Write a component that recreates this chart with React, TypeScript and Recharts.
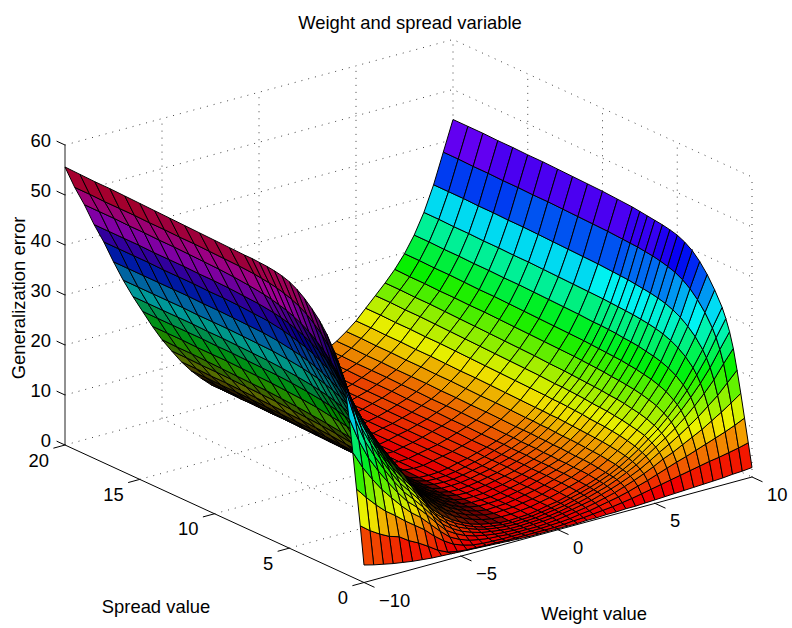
import React from "react";
import { ScatterChart, Scatter, XAxis, YAxis } from "recharts";

const WIDTH = 792;
const HEIGHT = 628;

const weightValues = [-10,-9.5,-9,-8.5,-8,-7.5,-7,-6.5,-6,-5.5,-5,-4.5,-4,-3.5,-3,-2.5,-2,-1.5,-1,-0.5,0,0.5,1,1.5,2,2.5,3,3.5,4,4.5,5,5.5,6,6.5,7,7.5,8,8.5,9,9.5,10];
const spreadValues = [0,0.25,0.5,0.75,1,1.25,1.5,1.75,2,2.5,3,3.5,4,4.5,5,5.5,6,6.5,7,7.5,8,9,10,11,12,13,14,15,16,17,18,19,20];

const e00 = [3.5,11,18,25,31.5,37,40,42,43.6,46.3,48.4,50,51.4,52.5,53.3,53.8,54.1,54.3,54.4,54.5,54.5,54.6,54.7,54.8,54.9,55,55.1,55.2,55.3,55.4,55.4,55.5,55.6];
const e01 = [3,9.5,15.8,21.5,26.5,30.5,33.5,35.8,37.6,40.4,42.6,44.4,45.8,47,47.9,48.6,49.1,49.5,49.8,50,50.2,50.4,50.5,50.6,50.7,50.7,50.8,50.8,50.9,50.9,50.9,51,51];
const e02 = [2.6,8.3,13.8,18.6,22.5,25.6,28,30,31.6,34.3,36.5,38.3,39.9,41.2,42.3,43.2,43.9,44.5,44.9,45.3,45.6,46,46.3,46.5,46.6,46.7,46.8,46.8,46.9,46.9,47,47,47];
const e03 = [2.2,7.3,12,16,19.4,22,24.1,25.9,27.4,30,32.2,34,35.6,36.9,38,38.9,39.6,40.2,40.7,41.1,41.4,41.8,42,42.2,42.3,42.3,42.4,42.4,42.4,42.5,42.5,42.5,42.5];
const e04 = [1.9,6.7,10.6,13.8,16.6,18.8,20.6,22.2,23.6,26,28,29.8,31.3,32.6,33.7,34.6,35.4,36,36.5,36.9,37.3,37.8,38,38.2,38.3,38.3,38.4,38.4,38.4,38.5,38.5,38.5,38.5];
const e05 = [1.6,5.4,9,11.7,14,15.9,17.5,18.9,20.1,22.3,24.1,25.8,27.2,28.4,29.4,30.3,31,31.6,32.1,32.5,32.8,33.3,33.6,33.7,33.8,33.9,33.9,34,34,34,34,34,34];
const e06 = [1.4,4.4,7.6,9.8,11.7,13.3,14.7,16,17.1,19.1,20.8,22.3,23.6,24.7,25.6,26.4,27.1,27.6,28.1,28.4,28.7,29.1,29.4,29.5,29.6,29.7,29.7,29.7,29.8,29.8,29.8,29.8,29.8];
const e07 = [1.2,3.2,6.2,8.3,10,11.3,12.5,13.6,14.6,16.3,17.8,19.1,20.2,21.1,21.9,22.6,23.2,23.7,24.1,24.4,24.7,25.1,25.4,25.6,25.7,25.8,25.9,25.9,26,26,26,26,26];
const e08 = [1.1,1.9,4.4,6.4,8,9.2,10.3,11.3,12.2,13.8,15.1,16.2,17.2,18,18.7,19.3,19.8,20.2,20.6,20.9,21.2,21.6,21.9,22.1,22.2,22.3,22.4,22.4,22.5,22.5,22.5,22.5,22.5];
const e09 = [1,1,2.9,4.5,5.8,6.9,7.9,8.7,9.5,10.9,12,13,13.9,14.6,15.2,15.7,16.2,16.6,16.9,17.2,17.4,17.9,18.2,18.4,18.6,18.7,18.8,18.9,18.9,18.9,19,19,19];
const e10 = [0.9,0.6,1.7,2.8,3.8,4.7,5.5,6.2,6.8,8,9,9.9,10.6,11.2,11.8,12.3,12.7,13,13.3,13.6,13.8,14.2,14.5,14.8,15,15.2,15.3,15.4,15.5,15.6,15.7,15.7,15.8];
const e11 = [0.8,0.4,1,1.8,2.6,3.3,3.9,4.5,5,6,6.8,7.6,8.2,8.8,9.3,9.7,10.1,10.4,10.7,11,11.2,11.6,11.9,12.1,12.3,12.5,12.6,12.7,12.8,12.9,12.9,13,13];
const e12 = [0.7,0.3,0.5,1.1,1.7,2.2,2.7,3.2,3.6,4.4,5.1,5.7,6.2,6.7,7.1,7.5,7.8,8.1,8.3,8.5,8.7,9,9.3,9.5,9.7,9.8,9.9,10,10.1,10.2,10.2,10.3,10.3];
const e13 = [0.6,0.2,0.3,0.7,1.1,1.5,1.9,2.2,2.5,3.1,3.6,4.1,4.5,4.9,5.2,5.5,5.8,6,6.2,6.4,6.5,6.8,7,7.2,7.4,7.5,7.6,7.7,7.8,7.9,7.9,8,8];
const e14 = [0.5,0.2,0.2,0.4,0.7,0.9,1.2,1.4,1.6,2.1,2.5,2.9,3.2,3.5,3.7,3.9,4.1,4.3,4.5,4.6,4.7,5,5.2,5.3,5.4,5.5,5.6,5.7,5.8,5.9,5.9,6,6];
const e15 = [0.4,0.1,0.1,0.3,0.4,0.6,0.7,0.8,1,1.3,1.6,1.9,2.1,2.3,2.5,2.6,2.8,2.9,3,3.1,3.2,3.4,3.5,3.6,3.7,3.8,3.9,4,4,4.1,4.1,4.2,4.2];
const e16 = [0.3,0.1,0.1,0.1,0.2,0.3,0.4,0.5,0.6,0.7,0.9,1.1,1.2,1.4,1.5,1.6,1.7,1.8,1.9,2,2,2.2,2.3,2.4,2.5,2.5,2.6,2.6,2.7,2.7,2.8,2.8,2.8];
const e17 = [0.2,0.1,0.1,0.1,0.1,0.1,0.2,0.2,0.2,0.3,0.4,0.5,0.6,0.6,0.7,0.8,0.8,0.9,0.9,1,1,1.1,1.2,1.2,1.3,1.3,1.4,1.4,1.5,1.5,1.5,1.6,1.6];
const e18 = [0.2,0.1,0.1,0.1,0.1,0.1,0.1,0.1,0.1,0.2,0.2,0.2,0.3,0.3,0.3,0.4,0.4,0.4,0.5,0.5,0.5,0.6,0.6,0.7,0.7,0.7,0.8,0.8,0.8,0.8,0.9,0.9,0.9];
const e19 = [0.2,0.1,0.1,0.1,0.2,0.2,0.2,0.2,0.2,0.2,0.3,0.3,0.3,0.3,0.3,0.3,0.3,0.4,0.4,0.4,0.4,0.4,0.4,0.5,0.5,0.5,0.5,0.5,0.5,0.6,0.6,0.6,0.6];
const e20 = [0.2,0.1,0.2,0.2,0.3,0.3,0.3,0.3,0.3,0.4,0.4,0.4,0.4,0.4,0.4,0.5,0.5,0.5,0.5,0.5,0.5,0.5,0.5,0.5,0.5,0.5,0.6,0.6,0.6,0.6,0.6,0.6,0.6];
const e21 = [0.2,0.2,0.3,0.4,0.5,0.5,0.6,0.6,0.6,0.6,0.7,0.7,0.7,0.7,0.8,0.8,0.8,0.8,0.8,0.8,0.8,0.9,0.9,0.9,0.9,0.9,0.9,1,1,1,1,1,1];
const e22 = [0.2,0.4,0.5,0.7,0.8,0.8,0.9,0.9,1,1,1,1.1,1.1,1.1,1.1,1.2,1.2,1.2,1.2,1.2,1.3,1.3,1.3,1.3,1.4,1.4,1.4,1.4,1.4,1.5,1.5,1.5,1.5];
const e23 = [0.3,0.5,0.8,1,1.1,1.2,1.2,1.3,1.3,1.4,1.4,1.5,1.5,1.5,1.6,1.6,1.6,1.6,1.6,1.7,1.7,1.7,1.7,1.8,1.8,1.8,1.8,1.9,1.9,1.9,1.9,2,2];
const e24 = [0.3,0.7,1,1.3,1.5,1.6,1.7,1.8,1.8,1.9,2,2,2.1,2.1,2.1,2.1,2.2,2.2,2.2,2.2,2.3,2.3,2.3,2.4,2.4,2.4,2.4,2.5,2.5,2.5,2.5,2.6,2.6];
const e25 = [0.4,0.9,1.4,1.7,1.9,2.1,2.2,2.3,2.4,2.5,2.6,2.6,2.7,2.7,2.7,2.8,2.8,2.8,2.8,2.9,2.9,2.9,3,3,3,3,3.1,3.1,3.1,3.1,3.2,3.2,3.2];
const e26 = [0.4,1.1,1.8,2.2,2.5,2.7,2.8,2.9,3,3.1,3.2,3.3,3.3,3.4,3.4,3.4,3.5,3.5,3.5,3.6,3.6,3.6,3.7,3.7,3.8,3.8,3.8,3.9,3.9,3.9,4,4,4];
const e27 = [0.5,1.4,2.2,2.7,3.1,3.3,3.5,3.6,3.7,3.9,4,4,4.1,4.1,4.2,4.2,4.3,4.3,4.3,4.4,4.4,4.5,4.5,4.6,4.6,4.6,4.7,4.7,4.8,4.8,4.8,4.9,4.9];
const e28 = [0.5,1.7,2.7,3.4,3.8,4.1,4.3,4.4,4.5,4.7,4.9,5,5,5.1,5.2,5.2,5.3,5.3,5.4,5.4,5.4,5.5,5.6,5.6,5.7,5.7,5.8,5.8,5.8,5.9,5.9,6,6];
const e29 = [0.6,2.1,3.3,4.1,4.6,5,5.2,5.4,5.6,5.8,6,6.1,6.2,6.3,6.4,6.4,6.5,6.6,6.6,6.7,6.7,6.8,6.9,6.9,7,7.1,7.1,7.2,7.2,7.3,7.3,7.4,7.4];
const e30 = [0.7,2.5,3.9,4.9,5.5,6,6.3,6.6,6.8,7.1,7.3,7.5,7.6,7.7,7.8,7.9,8,8.1,8.1,8.2,8.2,8.3,8.4,8.5,8.6,8.6,8.7,8.8,8.8,8.9,8.9,9,9];
const e31 = [0.8,2.9,4.6,5.8,6.6,7.2,7.6,7.9,8.2,8.6,8.9,9.1,9.3,9.4,9.5,9.7,9.8,9.9,10,10,10.1,10.2,10.3,10.4,10.5,10.6,10.7,10.8,10.8,10.9,10.9,11,11];
const e32 = [0.9,3.3,5.3,6.8,7.8,8.5,9,9.4,9.8,10.2,10.5,10.8,11,11.2,11.3,11.4,11.6,11.7,11.8,11.9,11.9,12.1,12.2,12.3,12.4,12.5,12.6,12.7,12.8,12.9,12.9,13,13];
const e33 = [1,3.7,6,7.6,8.9,9.8,10.4,10.9,11.3,11.9,12.3,12.6,12.9,13.1,13.2,13.4,13.5,13.6,13.7,13.8,13.9,14,14.2,14.3,14.4,14.5,14.6,14.7,14.8,14.9,14.9,15,15];
const e34 = [1.1,4.1,6.6,8.6,10.1,11.2,12.1,12.7,13.2,14,14.5,14.9,15.2,15.4,15.6,15.7,15.9,16,16.1,16.2,16.3,16.4,16.5,16.6,16.7,16.8,16.9,16.9,17,17,17.1,17.1,17.2];
const e35 = [1.2,4.5,7.3,9.6,11.4,12.8,13.9,14.7,15.3,16.3,16.9,17.4,17.7,18,18.2,18.4,18.5,18.6,18.7,18.8,18.9,19,19.1,19.2,19.3,19.4,19.5,19.5,19.6,19.7,19.7,19.8,19.8];
const e36 = [1.3,4.9,8,10.6,12.8,14.6,16,17,17.8,19,19.8,20.4,20.8,21.1,21.4,21.6,21.7,21.9,22,22.1,22.1,22.3,22.4,22.5,22.6,22.7,22.7,22.8,22.8,22.9,22.9,23,23];
const e37 = [1.4,5.2,8.7,11.8,14.4,16.6,18.3,19.6,20.7,22.2,23.3,24.1,24.7,25.1,25.4,25.6,25.8,25.9,26,26.1,26.2,26.3,26.4,26.5,26.6,26.7,26.7,26.8,26.8,26.9,26.9,27,27];
const e38 = [1.6,5.6,9.4,13,16,18.8,20.9,22.5,23.8,25.7,27.1,28.2,29,29.6,30,30.3,30.5,30.7,30.9,31,31.1,31.3,31.4,31.5,31.6,31.7,31.8,31.8,31.9,31.9,32,32,32];
const e39 = [1.7,6,10.2,14.3,18,21.5,24,26,27.6,30,31.9,33.4,34.5,35.3,35.8,36.2,36.5,36.7,36.9,37,37.1,37.3,37.4,37.5,37.6,37.7,37.7,37.8,37.8,37.9,37.9,38,38];
const e40 = [1.9,6.5,11.1,15.7,20,24,27,29.3,31.2,34,36.4,38.3,39.8,40.8,41.5,41.9,42.2,42.4,42.6,42.8,43,43.2,43.4,43.5,43.6,43.7,43.8,43.8,43.9,43.9,44,44,44];

const errorByWeight = [e00,e01,e02,e03,e04,e05,e06,e07,e08,e09,e10,e11,e12,e13,e14,e15,e16,e17,e18,e19,e20,e21,e22,e23,e24,e25,e26,e27,e28,e29,e30,e31,e32,e33,e34,e35,e36,e37,e38,e39,e40];

const weightTicks = [-10, -5, 0, 5, 10];
const spreadTicks = [0, 5, 10, 15, 20];
const errorTicks = [0, 10, 20, 30, 40, 50, 60];
const titleText = "Weight and spread variable";
const weightLabel = "Weight value";
const spreadLabel = "Spread value";
const errorLabel = "Generalization error";

// Orthographic view of the axes box, mapping data space to the chart's pixel-unit axes.
const project = (w: number, s: number, z: number) => ({
  x: 364 + 19.4 * (w + 10) - 14.95 * s,
  y: 582.5 - 5.275 * (w + 10) - 6.875 * s - 5 * z,
});
const depth = (w: number, s: number, z: number) =>
  -74.75 * (w + 10) - 97 * s + 212.2 * z;

const flat = errorByWeight.flat();
const zMin = Math.min(...flat);
const zMax = Math.max(...flat);

// hsv colormap with 64 levels; darkened by the share of the facet the original's finer wire mesh covers.
const facetColor = (z: number, cover: number) => {
  const idx = Math.min(63, Math.floor(((z - zMin) / (zMax - zMin)) * 64));
  return `hsl(${(idx / 64) * 360},100%,${50 * (1 - cover)}%)`;
};
const span = (a: { x: number; y: number }, b: { x: number; y: number }) => Math.hypot(b.x - a.x, b.y - a.y);

type Pt = { x: number; y: number };
type Cell = { x: number; y: number; corners: Pt[]; fill: string; d: number };
const cells: Cell[] = [];
for (let i = 0; i < weightValues.length - 1; i++) {
  for (let j = 0; j < spreadValues.length - 1; j++) {
    const w0 = weightValues[i], w1 = weightValues[i + 1];
    const s0 = spreadValues[j], s1 = spreadValues[j + 1];
    const a = errorByWeight[i][j], b = errorByWeight[i + 1][j];
    const c = errorByWeight[i + 1][j + 1], e = errorByWeight[i][j + 1];
    const p0 = project(w0, s0, a), p1 = project(w1, s0, b), p2 = project(w1, s1, c), p3 = project(w0, s1, e);
    const area =
      Math.abs((p2.x - p0.x) * (p3.y - p1.y) - (p3.x - p1.x) * (p2.y - p0.y)) / 2;
    const gapW = area / Math.max(1, span(p0, p3)) / ((w1 - w0) / 0.25);
    const gapS = area / Math.max(1, span(p0, p1)) / Math.max(1, (s1 - s0) / 0.3);
    const cover = 1 - (1 - Math.min(1, 1 / Math.max(gapW, 1))) * (1 - Math.min(1, 1 / Math.max(gapS, 1)));
    const weight = w0 < -1 && s0 >= 2 ? 0.85 : 0.22;
    cells.push({
      x: p0.x,
      y: p0.y,
      corners: [p0, p1, p2, p3],
      fill: facetColor((a + b) / 2, cover * weight),
      d: depth((w0 + w1) / 2, (s0 + s1) / 2, (a + b + c + e) / 4),
    });
  }
}
cells.sort((m, n) => m.d - n.d);

const CellShape = (props: any) => {
  const { cx, cy, payload } = props;
  const pts = payload.corners
    .map((c: any) => `${cx + c.x - payload.x},${cy + c.y - payload.y}`)
    .join(" ");
  return <polygon points={pts} fill={payload.fill} stroke="#000" strokeWidth={1} strokeLinejoin="round" />;
};

const Nothing = () => <g />;

const FONT = "'Liberation Sans', Arial, sans-serif";
const TextShape = (props: any) => {
  const { cx, cy, payload } = props;
  return (
    <text
      x={cx}
      y={cy}
      fontFamily={FONT}
      fontSize={18.4}
      fill="#000"
      textAnchor={payload.anchor}
      dominantBaseline="central"
      transform={payload.rotate ? `rotate(${payload.rotate} ${cx} ${cy})` : undefined}
    >
      {payload.text}
    </text>
  );
};

const fmt = (v: number) => (v < 0 ? `\u2212${-v}` : `${v}`);

const gridLines: Pt[][] = [
  ...errorTicks.map((z) => [project(-10, 20, z), project(10, 20, z), project(10, 0, z)]),
  ...weightTicks.filter((w) => w > -10).map((w) => [project(w, 20, 0), project(w, 20, 60)]),
  ...spreadTicks.filter((s) => s < 20).map((s) => [project(10, s, 0), project(10, s, 60)]),
  ...weightTicks.filter((w) => w > -10 && w < 10).map((w) => [project(w, 0, 0), project(w, 20, 0)]),
  ...spreadTicks.filter((s) => s > 0 && s < 20).map((s) => [project(-10, s, 0), project(10, s, 0)]),
];

const offset = (p: Pt, dx: number, dy: number) => ({ x: p.x + dx, y: p.y + dy });

const axisLines: Pt[][] = [
  [project(-10, 20, 0), project(-10, 0, 0)],
  [project(-10, 0, 0), project(10, 0, 0)],
  ...errorTicks.map((z) => [project(-10, 20, z), offset(project(-10, 20, z), -8.4, -3.85)]),
  ...spreadTicks.map((s) => [project(-10, s, 0), offset(project(-10, s, 0), -11.6, 3.2)]),
  ...weightTicks.map((w) => [project(w, 0, 0), offset(project(w, 0, 0), 10.5, 4.8)]),
];
const zAxisLine = [project(-10, 20, 0), project(-10, 20, 60)];

const labels = [
  ...errorTicks.map((z) => ({ ...offset(project(-10, 20, z), -14, -4.5), text: fmt(z), anchor: "end", rotate: 0 })),
  ...spreadTicks.map((s) => ({ ...offset(project(-10, s, 0), -16, 15), text: fmt(s), anchor: "end", rotate: 0 })),
  ...weightTicks.map((w) => ({ ...offset(project(w, 0, 0), 15, 17.5), text: fmt(w), anchor: "start", rotate: 0 })),
  { x: 410, y: 22, text: titleText, anchor: "middle", rotate: 0 },
  { x: 594, y: 613, text: weightLabel, anchor: "middle", rotate: 0 },
  { x: 156, y: 606, text: spreadLabel, anchor: "middle", rotate: 0 },
  { x: 18, y: 298, text: errorLabel, anchor: "middle", rotate: -90 },
];

export default function App() {
  return (
    <div style={{ position: "absolute", left: 0, top: 0, width: WIDTH, height: HEIGHT, background: "#fff" }}>
      <ScatterChart width={WIDTH} height={HEIGHT} margin={{ top: 0, right: 0, bottom: 0, left: 0 }}>
        <XAxis type="number" dataKey="x" domain={[0, WIDTH]} hide />
        <YAxis type="number" dataKey="y" domain={[0, HEIGHT]} reversed hide />
        {gridLines.map((pts, i) => (
          <Scatter
            key={`grid-${i}`}
            data={pts}
            isAnimationActive={false}
            shape={Nothing}
            line={{ stroke: "#444", strokeWidth: 1, strokeDasharray: "1 6" }}
          />
        ))}
        <Scatter
          data={zAxisLine}
          isAnimationActive={false}
          shape={Nothing}
          line={{ stroke: "#222", strokeWidth: 1 }}
        />
        <Scatter data={cells} isAnimationActive={false} shape={CellShape} />
        {axisLines.map((pts, i) => (
          <Scatter
            key={`axis-${i}`}
            data={pts}
            isAnimationActive={false}
            shape={Nothing}
            line={{ stroke: "#000", strokeWidth: 1 }}
          />
        ))}
        <Scatter data={labels} isAnimationActive={false} shape={TextShape} />
      </ScatterChart>
    </div>
  );
}
